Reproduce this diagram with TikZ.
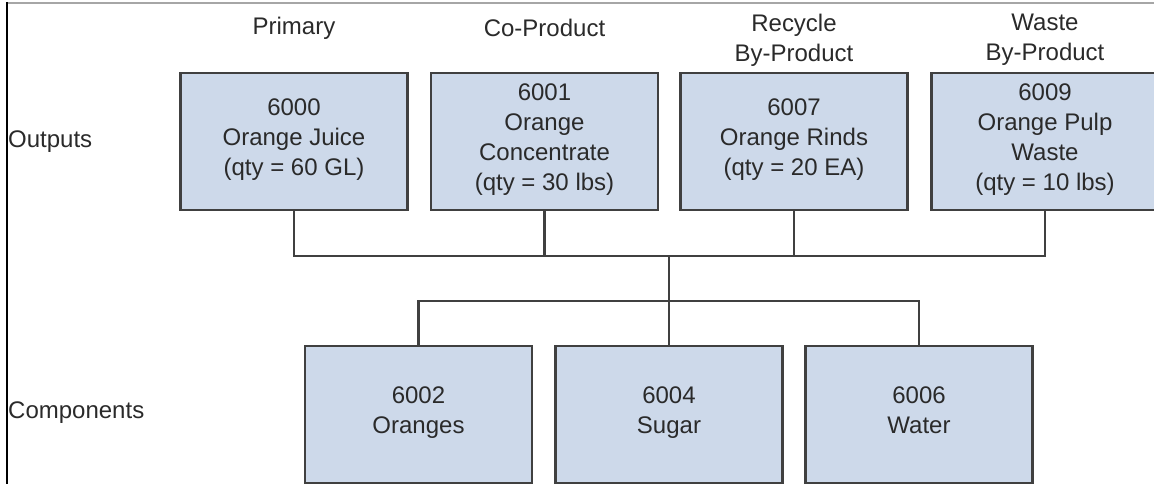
\documentclass[tikz,border=0pt]{standalone}
\usepackage{fontspec}
\setmainfont{Liberation Sans}
\definecolor{boxfill}{HTML}{CDD9EA}
\definecolor{boxline}{HTML}{404040}
\definecolor{txt}{HTML}{2A2A2A}
\begin{document}
\begin{tikzpicture}[x=1pt,y=-1pt,
  every node/.style={text=txt,font=\fontsize{24}{30}\selectfont,align=center,inner sep=0pt},
  itembox/.style={draw=boxline,fill=boxfill,line width=2.6pt,minimum width=227pt,minimum height=137pt,
    execute at begin node={\rule{0pt}{29pt}}, execute at end node=\strut},
  link/.style={draw=boxline,line width=2.6pt}]
\useasboundingbox (0,0) rectangle (1154,484);
\clip (0,0) rectangle (1154,484);
% frame lines
\draw[gray!70,line width=2pt] (7,3) -- (1154,3);
\draw[black,line width=2pt] (7,2) -- (7,484);
% row labels
\node[anchor=west] (outputs) at (8,142) {Outputs};
\node[anchor=west] (components) at (8,413) {Components};
% column labels
\node (lprimary) at (294,28) {Primary};
\node (lco) at (544.5,28) {Co-Product};
\node (lrec) at (794,40) {Recycle\\By-Product};
\node (lwaste) at (1045,40) {Waste\\By-Product};
% output boxes
\node[itembox] (o1) at (294,141.5) {6000\\Orange Juice\\(qty = 60 GL)};
\node[itembox] (o2) at (544.5,141.5) {6001\\Orange\\Concentrate\\(qty = 30 lbs)};
\node[itembox] (o3) at (794,141.5) {6007\\Orange Rinds\\(qty = 20 EA)};
\node[itembox] (o4) at (1045,141.5) {6009\\Orange Pulp\\Waste\\(qty = 10 lbs)};
% component boxes
\node[itembox] (c1) at (418.5,414.5) {6002\\Oranges};
\node[itembox] (c2) at (669,414.5) {6004\\Sugar};
\node[itembox] (c3) at (919,414.5) {6006\\Water};
% connectors
\coordinate (j1) at (669,256);
\coordinate (j2) at (669,301);
\draw[link] (o1.south) |- (j1);
\draw[link] (o4.south) |- (j1);
\draw[link] (o2.south) -- (o2.south |- j1);
\draw[link] (o3.south) -- (o3.south |- j1);
\draw[link] (j1) -- (c2.north);
\draw[link] (c1.north) |- (j2);
\draw[link] (c3.north) |- (j2);
\end{tikzpicture}
\end{document}
